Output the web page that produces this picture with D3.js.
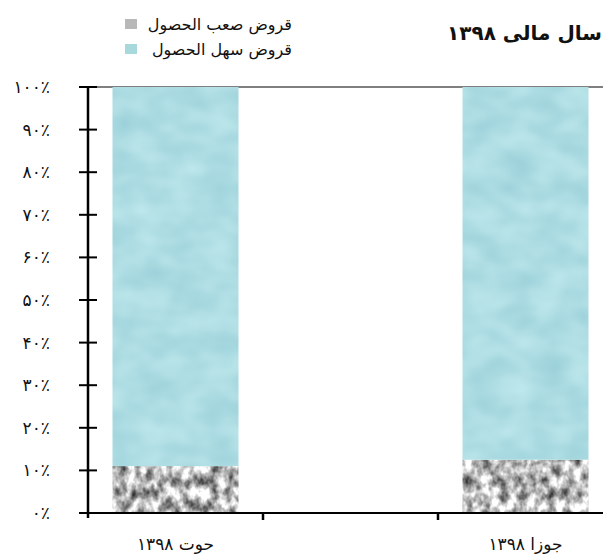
<!DOCTYPE html>
<html>
<head>
<meta charset="utf-8">
<script src="https://cdn.jsdelivr.net/npm/d3@7/dist/d3.min.js"></script>
<style>
  html, body { margin: 0; padding: 0; background: #fff; }
  svg { display: block; }
  text { font-family: "DejaVu Sans", "Noto Sans", sans-serif; fill: #111; }
</style>
</head>
<body>
<svg id="chart" width="603" height="559"></svg>
<script>
// Periods (middle period has no reported values)
const categories = ["حوت ۱۳۹۸", "", "جوزا ۱۳۹۸"];
const seriesNames = ["قروض صعب الحصول", "قروض سهل الحصول"];
const hardLoans = [0.11, null, 0.125];
const easyLoans = [0.89, null, 0.875];
const yTicks = [0, 0.1, 0.2, 0.3, 0.4, 0.5, 0.6, 0.7, 0.8, 0.9, 1.0];
const title = "سال مالی ۱۳۹۸";

const faDigits = "۰۱۲۳۴۵۶۷۸۹";
const toFa = s => String(s).replace(/[0-9]/g, d => faDigits[+d]);
const pctLabel = v => toFa(Math.round(v * 100)) + "٪";

const svg = d3.select("#chart");
const defs = svg.append("defs");

// Granite-like texture for the hard-to-collect share
const fGrey = defs.append("filter").attr("id", "granite")
  .attr("x", 0).attr("y", 0).attr("width", 1).attr("height", 1)
  .attr("color-interpolation-filters", "sRGB");
fGrey.append("feTurbulence").attr("type", "fractalNoise")
  .attr("baseFrequency", "0.11 0.08").attr("numOctaves", 3).attr("seed", 7).attr("result", "n");
fGrey.append("feColorMatrix").attr("in", "n").attr("type", "matrix")
  .attr("values", "1.5 0 0 0 -0.03  1.5 0 0 0 -0.03  1.5 0 0 0 -0.03  0 0 0 0 1")
  .attr("result", "g");
fGrey.append("feComposite").attr("in", "g").attr("in2", "SourceGraphic").attr("operator", "in");

// Soft water texture for the easy-to-collect share
const fWater = defs.append("filter").attr("id", "water")
  .attr("x", 0).attr("y", 0).attr("width", 1).attr("height", 1)
  .attr("color-interpolation-filters", "sRGB");
fWater.append("feTurbulence").attr("type", "fractalNoise")
  .attr("baseFrequency", "0.03 0.045").attr("numOctaves", 2).attr("seed", 3).attr("result", "n");
fWater.append("feColorMatrix").attr("in", "n").attr("type", "matrix")
  .attr("values", "0.16 0 0 0 0.6  0.11 0 0 0 0.81  0.09 0 0 0 0.845  0 0 0 0 1")
  .attr("result", "c");
fWater.append("feComposite").attr("in", "c").attr("in2", "SourceGraphic").attr("operator", "in");

const margin = { left: 88, top: 87, bottom: 513, right: 613 };

const x = d3.scaleBand().domain(d3.range(categories.length))
  .range([margin.left, margin.right]).padding(0);
const y = d3.scaleLinear().domain([0, 1]).range([margin.bottom, margin.top]);
const barW = x.step() * 0.72;
const barX = i => x(i) + (x.step() - barW) / 2;

// Top frame line
svg.append("line")
  .attr("x1", margin.left).attr("x2", margin.right)
  .attr("y1", y(1)).attr("y2", y(1))
  .attr("stroke", "#555").attr("stroke-width", 1.5);

// Stacked bars
const rows = categories.map((c, i) => ({ i, hard: hardLoans[i], easy: easyLoans[i] }))
  .filter(d => d.hard != null);

const g = svg.append("g");
g.selectAll("rect.hard").data(rows).join("rect")
  .attr("class", "hard")
  .attr("x", d => barX(d.i)).attr("width", barW)
  .attr("y", d => y(d.hard)).attr("height", d => y(0) - y(d.hard))
  .attr("fill", "#999").attr("filter", "url(#granite)");
g.selectAll("rect.easy").data(rows).join("rect")
  .attr("class", "easy")
  .attr("x", d => barX(d.i)).attr("width", barW)
  .attr("y", d => y(d.hard + d.easy)).attr("height", d => y(d.hard) - y(d.hard + d.easy))
  .attr("fill", "#aadae0").attr("filter", "url(#water)");

// Y axis
const yAxis = svg.append("g").attr("transform", `translate(${margin.left},0)`);
yAxis.append("line").attr("x1", 0).attr("x2", 0)
  .attr("y1", y(1) - 1).attr("y2", y(0) + 5)
  .attr("stroke", "#000").attr("stroke-width", 2.5);
yAxis.selectAll("line.tick").data(yTicks).join("line")
  .attr("class", "tick")
  .attr("x1", -9).attr("x2", 9)
  .attr("y1", d => y(d)).attr("y2", d => y(d))
  .attr("stroke", "#000").attr("stroke-width", 2);
yAxis.selectAll("text").data(yTicks).join("text")
  .attr("x", -38).attr("y", d => y(d) + 6)
  .attr("text-anchor", "end")
  .style("font-size", "17px")
  .text(d => pctLabel(d));

// X axis
const xAxis = svg.append("g");
xAxis.append("line")
  .attr("x1", margin.left).attr("x2", margin.right)
  .attr("y1", y(0)).attr("y2", y(0))
  .attr("stroke", "#000").attr("stroke-width", 2);
xAxis.selectAll("line.tick").data(d3.range(1, categories.length)).join("line")
  .attr("class", "tick")
  .attr("x1", d => x(d)).attr("x2", d => x(d))
  .attr("y1", y(0)).attr("y2", y(0) + 7)
  .attr("stroke", "#000").attr("stroke-width", 2.5);
xAxis.selectAll("text").data(categories.map((c, i) => ({ c, i }))).join("text")
  .attr("x", d => x(d.i) + x.step() / 2).attr("y", 550)
  .attr("text-anchor", "middle")
  .attr("direction", "rtl")
  .style("font-size", "17px")
  .text(d => d.c);

// Title
svg.append("text")
  .attr("x", 602).attr("y", 40)
  .attr("text-anchor", "start").attr("direction", "rtl")
  .style("font-size", "20px").style("font-weight", "bold")
  .text(title);

// Legend
const legend = svg.append("g");
const legendItems = [
  { name: seriesNames[0], fill: "#b8b8b8" },
  { name: seriesNames[1], fill: "#a6d8dc" }
];
legendItems.forEach((d, k) => {
  const yy = 24 + k * 25;
  legend.append("rect")
    .attr("x", 125).attr("y", yy - 5).attr("width", 12).attr("height", 10)
    .attr("fill", d.fill);
  legend.append("text")
    .attr("x", 292).attr("y", yy + 6)
    .attr("text-anchor", "start").attr("direction", "rtl")
    .style("font-size", "16px")
    .text(d.name);
});
</script>
</body>
</html>
